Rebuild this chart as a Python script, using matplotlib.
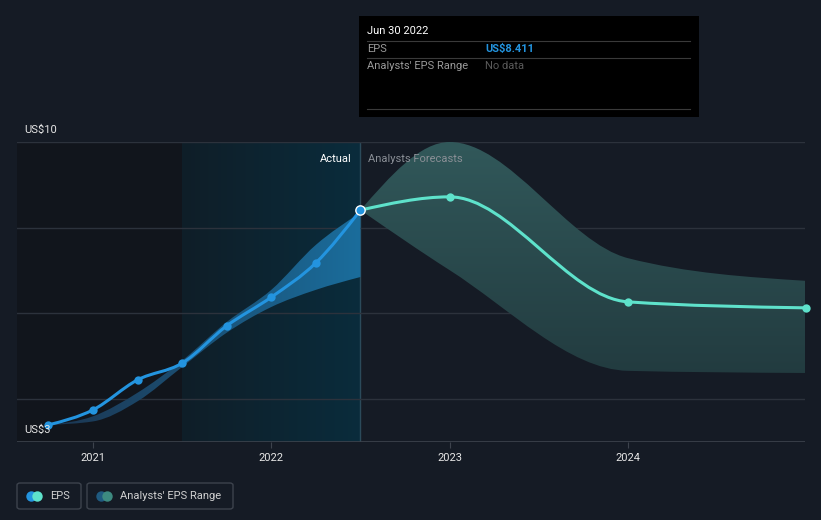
import numpy as np
import matplotlib
matplotlib.use("Agg")
import matplotlib.pyplot as plt
from matplotlib.path import Path
from matplotlib.patches import PathPatch, Rectangle, FancyBboxPatch

plt.rcParams['font.family'] = ['Roboto', 'DejaVu Sans']

# EPS history (decimal years), US$
act_x = [2020.75, 2021.0, 2021.25, 2021.5, 2021.75, 2022.0, 2022.25, 2022.5]
act_eps = [3.40, 3.75, 4.45, 4.84, 5.71, 6.38, 7.18, 8.411]
# past analyst range
act_low = [3.40, 3.48, 3.95, 4.75, 5.55, 6.15, 6.55, 6.85]
act_high = [3.40, 3.60, 4.15, 4.90, 5.80, 6.55, 7.60, 8.35]

# forecasts
fc_x = [2022.5, 2023.0, 2024.0, 2025.0]
fc_eps = [8.411, 8.72, 6.27, 6.13]
fc_low = [8.411, 7.01, 4.66, 4.61]
fc_high = [8.411, 10.0, 7.29, 6.76]

year_ticks = [2021, 2022, 2023, 2024]

BG = '#151b25'
W, H = 821, 520
FS = 8

fig = plt.figure(figsize=(W / 100, H / 100), dpi=100, facecolor=BG)


def fx(x):
    return x / W


def fy(y):
    return 1 - y / H


ax = fig.add_axes([fx(17), fy(442), (805 - 17) / W, 300 / H])
ax.set_facecolor(BG)
x0 = 2021 - 76 / 178.3
x1 = 2021 + 712 / 178.3
ax.set_xlim(x0, x1)
ax.set_ylim(3, 10)
for s in ax.spines.values():
    s.set_visible(False)


def monotone(x, y):
    # cubic bezier path through the points (monotone-x style tangents)
    x = np.asarray(x, float)
    y = np.asarray(y, float)
    h = np.diff(x)
    s = np.diff(y) / h
    n = len(x)
    m = np.zeros(n)
    for i in range(1, n - 1):
        p = (s[i - 1] * h[i] + s[i] * h[i - 1]) / (h[i - 1] + h[i])
        m[i] = (np.sign(s[i - 1]) + np.sign(s[i])) * min(abs(s[i - 1]), abs(s[i]), 0.5 * abs(p))
    m[0] = (3 * s[0] - m[1]) / 2 if n > 2 else s[0]
    m[-1] = (3 * s[-1] - m[-2]) / 2 if n > 2 else s[-1]
    verts, codes = [], []
    for i in range(n - 1):
        if i == 0:
            verts.append((x[0], y[0]))
            codes.append(Path.MOVETO)
        d = h[i] / 3
        verts += [(x[i] + d, y[i] + m[i] * d), (x[i + 1] - d, y[i + 1] - m[i + 1] * d), (x[i + 1], y[i + 1])]
        codes += [Path.CURVE4] * 3
    return verts, codes


def band(x, lo, hi):
    vu, cu = monotone(x, hi)
    vl, cl = monotone(x[::-1], lo[::-1])
    cl[0] = Path.LINETO
    return Path(vu + vl + [vu[0]], cu + cl + [Path.CLOSEPOLY])


# regions
ax.add_patch(Rectangle((x0, 3), 2021.5 - x0, 7, color='#11151c', zorder=0, lw=0))
grad = np.linspace(0, 1, 256).reshape(1, -1)
ax.imshow(grad, extent=(2021.5, 2022.5, 3, 10), aspect='auto', zorder=0.5, interpolation='bilinear',
          cmap=matplotlib.colors.LinearSegmentedColormap.from_list('a', ['#0f1e28', '#0a2c3c']))
ax.axvline(2022.5, color='#2b4a5a', lw=1, zorder=1)

for yv in [4, 6, 8, 10]:
    ax.axhline(yv, color='#2c323c', lw=1, zorder=1)
ax.axhline(3, color='#3d434d', lw=1.2, zorder=1)

# past range band with horizontal gradient
p_past = PathPatch(band(act_x, act_low, act_high), facecolor='none', lw=0)
ax.add_patch(p_past)
im = ax.imshow(grad, extent=(2020.75, 2022.5, 3, 10), aspect='auto', zorder=2, interpolation='bilinear',
               cmap=matplotlib.colors.LinearSegmentedColormap.from_list('b', ['#1c3550', '#1a6d9c']))
im.set_clip_path(p_past)

# forecast band with vertical gradient
p_fc = PathPatch(band(fc_x, fc_low, fc_high), facecolor='none', lw=0)
ax.add_patch(p_fc)
vgrad = np.linspace(0, 1, 256).reshape(-1, 1)
im2 = ax.imshow(vgrad, extent=(2022.5, 2025.0, 3, 10), aspect='auto', zorder=2, origin='lower',
                interpolation='bilinear',
                cmap=matplotlib.colors.LinearSegmentedColormap.from_list('c', ['#1e3338', '#31585a']))
im2.set_clip_path(p_fc)

# lines
va, ca = monotone(act_x, act_eps)
ax.add_patch(PathPatch(Path(va, ca), facecolor='none', edgecolor='#2394df', lw=2.2, zorder=3))
vf, cf = monotone(fc_x, fc_eps)
ax.add_patch(PathPatch(Path(vf, cf), facecolor='none', edgecolor='#5ee2cb', lw=2.2, zorder=3))
ax.scatter(act_x[:-1], act_eps[:-1], s=36, color='#2394df', zorder=4, lw=0)
ax.scatter(fc_x[1:], fc_eps[1:], s=36, color='#5ee2cb', zorder=4, lw=0, clip_on=False)
ax.scatter([act_x[-1]], [act_eps[-1]], s=45, color='#2394df', edgecolor='white', lw=1, zorder=5)

ax.set_xticks(year_ticks)
ax.set_xticklabels([str(t) for t in year_ticks])
ax.tick_params(axis='x', colors='#3d434d', labelcolor='#e6e6e6', labelsize=FS, length=4, pad=4)
ax.set_yticks([])

ax.text(2022.45, 9.6, 'Actual', color='#ffffff', fontsize=FS, ha='right', va='center', zorder=6)
ax.text(2022.54, 9.6, 'Analysts Forecasts', color='#8a8f96', fontsize=FS, ha='left', va='center', zorder=6)

fig.text(fx(24), fy(130), 'US$10', color='#e6e6e6', fontsize=FS, va='center')
fig.text(fx(24), fy(430), 'US$3', color='#e6e6e6', fontsize=FS, va='center', zorder=3)

# tooltip
fig.patches.append(Rectangle((fx(359), fy(117)), 340 / W, 101 / H, transform=fig.transFigure,
                             facecolor='#000000', edgecolor='none', zorder=10))
for yy in [41, 58, 109]:
    fig.add_artist(plt.Line2D([fx(367), fx(690)], [fy(yy), fy(yy)], color='#3a3a3a', lw=0.8, zorder=11))
fig.text(fx(367), fy(31), 'Jun 30 2022', color='#ffffff', fontsize=FS, va='center', zorder=12)
fig.text(fx(367), fy(49), 'EPS', color='#9a9a9a', fontsize=FS, va='center', zorder=12)
fig.text(fx(485), fy(49), 'US$8.411', color='#2394df', fontsize=FS, va='center', weight='bold', zorder=12)
fig.text(fx(367), fy(66), "Analysts' EPS Range", color='#9a9a9a', fontsize=FS, va='center', zorder=12)
fig.text(fx(485), fy(66), 'No data', color='#5a5a5a', fontsize=FS, va='center', zorder=12)

# legend
for (bx, bw, c1, c2, lab) in [(17, 64, '#2394df', '#5ee2cb', 'EPS'),
                              (87, 146, '#1f5a80', '#3d8a80', "Analysts' EPS Range")]:
    fig.patches.append(FancyBboxPatch((fx(bx), fy(509)), bw / W, 26 / H, transform=fig.transFigure,
                                      boxstyle='round,pad=0,rounding_size=0.004', facecolor='none',
                                      edgecolor='#3d434d', lw=1))
    fig.add_artist(plt.Line2D([fx(bx + 14)], [fy(496)], marker='o', ms=7.5, color=c1, mew=0))
    fig.add_artist(plt.Line2D([fx(bx + 20)], [fy(496)], marker='o', ms=7.5, color=c2, mew=0))
    fig.text(fx(bx + 33), fy(496), lab, color='#d0d0d0', fontsize=FS, va='center')

fig.savefig('out.png', dpi=100, facecolor=BG)
